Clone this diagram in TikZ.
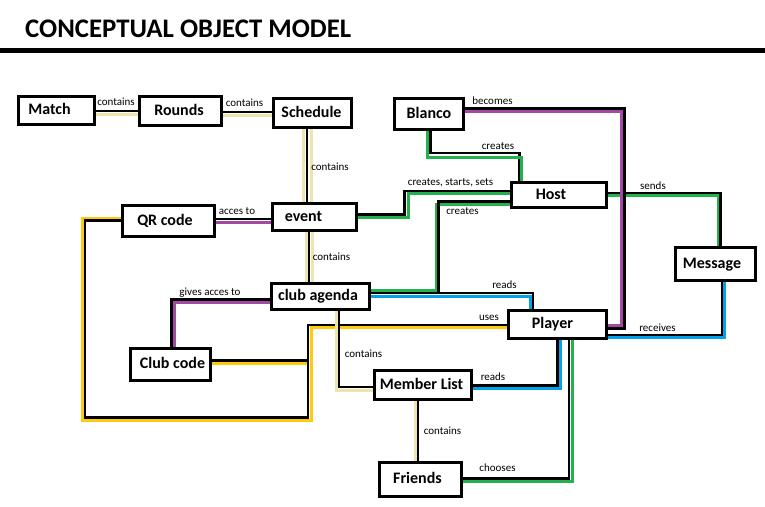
\documentclass[tikz,border=0pt]{standalone}
\usepackage{fontspec}
\setmainfont{Carlito}
\definecolor{pTan}{RGB}{239,228,176}
\definecolor{pPurple}{RGB}{163,73,164}
\definecolor{pGreen}{RGB}{34,177,76}
\definecolor{pBlue}{RGB}{0,162,232}
\definecolor{pYellow}{RGB}{255,201,14}
\begin{document}
\begin{tikzpicture}[x=1pt,y=-1pt,
  box/.style={draw, line width=3pt, inner sep=0pt, font=\fontsize{16}{18}\selectfont\bfseries, text height=11pt, text depth=3pt},
  lbl/.style={inner sep=0pt, font=\fontsize{11}{12}\selectfont, text height=7.5pt, text depth=2pt},
  blk/.style={line width=2.7pt, black},
  tanl/.style={line width=3pt, pTan},
  purl/.style={line width=3pt, pPurple},
  grnl/.style={line width=3pt, pGreen},
  blul/.style={line width=3pt, pBlue},
  yell/.style={line width=3pt, pYellow}]
\useasboundingbox (0,0) rectangle (765,506);
\fill[white] (0,0) rectangle (765,506);

% title
\node[anchor=base west, inner sep=0pt, font=\fontsize{26.8}{30}\selectfont\bfseries] (title) at (25,37.5) {CONCEPTUAL OBJECT MODEL};
\draw[line width=5pt] (0,50.2) -- (765,50.2);

% boxes
\node[box, minimum width=76pt, minimum height=28pt] (match) at (56.5,110.5) {\hspace*{-14pt}Match};
\node[box, minimum width=82pt, minimum height=29pt] (rounds) at (180.5,111) {\hspace*{-3pt}Rounds};
\node[box, minimum width=78pt, minimum height=29pt] (schedule) at (312.5,113) {\hspace*{-2pt}Schedule};
\node[box, minimum width=92pt, minimum height=31pt] (qrcode) at (168.5,221) {\hspace*{-7pt}QR code};
\node[box, minimum width=84pt, minimum height=27pt] (event) at (314.5,217) {\hspace*{-22pt}event};
\node[box, minimum width=69pt, minimum height=31pt] (blanco) at (429,114) {Blanco};
\node[box, minimum width=95pt, minimum height=25pt] (host) at (559,195) {\hspace*{-16pt}Host};
\node[box, minimum width=98pt, minimum height=26pt] (clubagenda) at (320.5,296.5) {\hspace*{-5pt}club agenda};
\node[box, minimum width=80pt, minimum height=32pt] (clubcode) at (170.5,364.5) {Club code\hspace*{-4pt}};
\node[box, minimum width=98pt, minimum height=28pt] (player) at (557.5,324.5) {\hspace*{-10pt}Player};
\node[box, minimum width=80pt, minimum height=33pt] (message) at (715.5,264) {\hspace*{-7pt}Message};
\node[box, minimum width=97pt, minimum height=29pt] (memberlist) at (423,385) {\hspace*{-3pt}Member List};
\node[box, minimum width=82pt, minimum height=34pt] (friends) at (420.5,479.5) {\hspace*{-6pt}Friends};

% Match - Rounds
\draw[tanl] (match.east |- 0,114) -- (rounds.west |- 0,114);
\draw[blk] (match.east |- 0,111) -- (rounds.west |- 0,111);
% Rounds - Schedule
\draw[tanl] (rounds.east |- 0,115) -- (schedule.west |- 0,115);
\draw[blk] (rounds.east |- 0,112) -- (schedule.west |- 0,112);
% Schedule - event
\draw[tanl] (303,0 |- schedule.south) -- (303,0 |- event.north);
\draw[tanl] (311,0 |- schedule.south) -- (311,0 |- event.north);
\draw[blk] (307,0 |- schedule.south) -- (307,0 |- event.north);
% QR - event
\draw[purl] (qrcode.east |- 0,222) -- (event.west |- 0,222);
\draw[blk] (qrcode.east |- 0,219) -- (event.west |- 0,219);
% event - club agenda
\draw[tanl] (306,0 |- event.south) -- (306,0 |- clubagenda.north);
\draw[tanl] (312,0 |- event.south) -- (312,0 |- clubagenda.north);
\draw[blk] (309,0 |- event.south) -- (309,0 |- clubagenda.north);
% Blanco - Host (creates)
\draw[blk] (430.5,0 |- blanco.south) -- (430.5,153) -- (519.5,153) -- (519.5,0 |- host.north);
\draw[grnl] (427.5,0 |- blanco.south) -- (427.5,157) -- (521,157) -- (521,0 |- host.north);
% event - Host (creates, starts, sets)
\draw[grnl] (event.east |- 0,217) -- (408,217) -- (408,193.7) -- (host.west |- 0,193.7);
\draw[blk] (event.east |- 0,214.5) -- (404.5,214.5) -- (404.5,191) -- (host.west |- 0,191);
% Host - club agenda (creates)
\draw[grnl] (host.west |- 0,204) -- (436,204) -- (436,290.5) -- (clubagenda.east |- 0,290.5);
\draw[blk] (host.west |- 0,201.5) -- (438.5,201.5) -- (438.5,293);
% club agenda - Player (reads)
\draw[blul] (clubagenda.east |- 0,296) -- (530.5,296) -- (530.5,0 |- player.north);
\draw[blk] (clubagenda.east |- 0,293) -- (533,293) -- (533,0 |- player.north);
% Host - Message (sends)
\draw[grnl] (host.east |- 0,195.5) -- (718,195.5) -- (718,0 |- message.north);
\draw[blk] (host.east |- 0,193) -- (720.5,193) -- (720.5,0 |- message.north);
% Blanco - Player (becomes)
\draw[blk] (blanco.east |- 0,108.5) -- (624.5,108.5) -- (624.5,328.5) -- (player.east |- 0,328.5);
\draw[purl] (blanco.east |- 0,111.5) -- (621,111.5) -- (621,325.5) -- (player.east |- 0,325.5);
% Player - Message (receives)
\draw[blul] (player.east |- 0,337.5) -- (724.5,337.5) -- (724.5,0 |- message.south);
\draw[blk] (player.east |- 0,335) -- (722,335) -- (722,0 |- message.south);
% Player - Member List (reads)
\draw[blul] (560,0 |- player.south) -- (560,388) -- (memberlist.east |- 0,388);
\draw[blk] (557.5,0 |- player.south) -- (557.5,385.5) -- (memberlist.east |- 0,385.5);
% Player - Friends (chooses)
\draw[grnl] (572,0 |- player.south) -- (572,481.5) -- (friends.east |- 0,481.5);
\draw[blk] (569,0 |- player.south) -- (569,478.5) -- (friends.east |- 0,478.5);
% uses (Player - QR code / Club code)
\draw[yell] (player.west |- 0,327.7) -- (311.7,327.7) -- (311.7,420.3) -- (82.5,420.3) -- (82.5,218) -- (qrcode.west |- 0,218);
\draw[yell] (clubcode.east |- 0,363.3) -- (306.7,363.3);
\draw[blk] (player.west |- 0,325) -- (308,325) -- (308,417.3) -- (85,417.3) -- (85,220.8) -- (qrcode.west |- 0,220.8);
\draw[blk] (clubcode.east |- 0,360.3) -- (308,360.3);
% club agenda - Member List (contains)
\draw[tanl] (336.5,0 |- clubagenda.south) -- (336.5,390.5) -- (memberlist.west |- 0,390.5);
\draw[blk] (339,0 |- clubagenda.south) -- (339,387) -- (memberlist.west |- 0,387);
% Member List - Friends (contains)
\draw[tanl] (415.3,0 |- memberlist.south) -- (415.3,0 |- friends.north);
\draw[blk] (418,0 |- memberlist.south) -- (418,0 |- friends.north);
% club agenda - Club code (gives acces to)
\draw[purl] (clubagenda.west |- 0,302) -- (174.2,302) -- (174.2,0 |- clubcode.north);
\draw[blk] (clubagenda.west |- 0,299.5) -- (171.3,299.5) -- (171.3,0 |- clubcode.north);

% labels
\node[lbl] (l1) at (116,103) {contains};
\node[lbl] (l2) at (244.5,104) {contains};
\node[lbl] (l3) at (330,168) {contains};
\node[lbl] (l4) at (237,212) {acces to};
\node[lbl] (l5) at (492.5,102) {becomes};
\node[lbl] (l6) at (498,147) {creates};
\node[lbl] (l7) at (450.5,183) {creates, starts, sets};
\node[lbl] (l8) at (462.5,212) {creates};
\node[lbl] (l9) at (653,187) {sends};
\node[lbl] (l10) at (331.5,258) {contains};
\node[lbl] (l11) at (210,293) {gives acces to};
\node[lbl] (l12) at (504.5,286) {reads};
\node[lbl] (l13) at (489,318) {uses};
\node[lbl] (l14) at (657.5,329) {receives};
\node[lbl] (l15) at (363.5,355) {contains};
\node[lbl] (l16) at (493,378) {reads};
\node[lbl] (l17) at (442.5,432) {contains};
\node[lbl] (l18) at (497.5,469) {chooses};
\end{tikzpicture}
\end{document}
